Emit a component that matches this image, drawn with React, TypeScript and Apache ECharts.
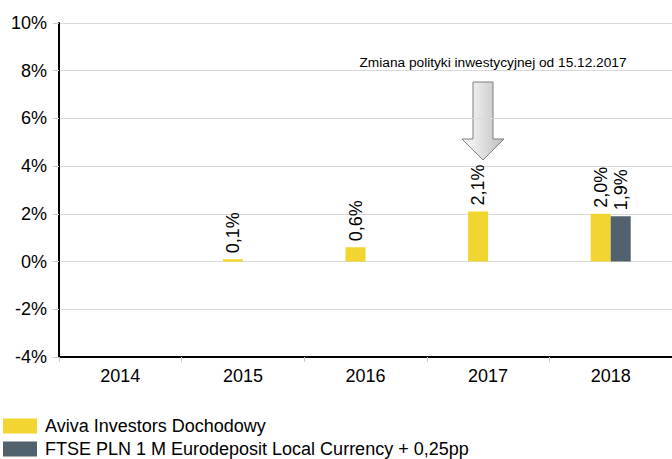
import React, { useEffect, useRef } from "react";
import * as echarts from "echarts";

const years = ["2014", "2015", "2016", "2017", "2018"];
const avivaValues: (number | null)[] = [null, 0.1, 0.6, 2.1, 2.0];
const benchmarkValues: (number | null)[] = [null, null, null, null, 1.9];
const seriesNames = [
  "Aviva Investors Dochodowy",
  "FTSE PLN 1 M Eurodeposit Local Currency + 0,25pp",
];
const annotationText = "Zmiana polityki inwestycyjnej od 15.12.2017";

const FONT = "Liberation Sans, Arial, sans-serif";

const fmt = (v: number) => v.toFixed(1).replace(".", ",") + "%";

export default function App() {
  const ref = useRef<HTMLDivElement>(null);
  useEffect(() => {
    if (!ref.current) return;
    const chart = echarts.init(ref.current, undefined, { renderer: "svg" });
    const label = {
      show: true,
      position: "top" as const,
      rotate: 90,
      align: "left" as const,
      verticalAlign: "middle" as const,
      distance: 6,
      fontSize: 18,
      color: "#000",
      fontFamily: FONT,
      formatter: (p: any) => fmt(p.value),
    };
    chart.setOption({
      animation: false,
      textStyle: { fontFamily: FONT },
      grid: { left: 59, right: -8, top: 23, bottom: 102, containLabel: false },
      legend: {
        orient: "vertical",
        left: 3,
        top: 417,
        height: 80,
        itemWidth: 34,
        itemHeight: 15,
        itemGap: 5,
        icon: "rect",
        padding: 0,
        textStyle: { fontSize: 18, lineHeight: 18, color: "#000", fontFamily: FONT, padding: [0, 0, 0, 3] },
        data: seriesNames,
      },
      xAxis: {
        type: "category",
        data: years,
        boundaryGap: true,
        axisLine: { onZero: false, lineStyle: { color: "#000", width: 2 } },
        axisTick: { show: true, length: 5, lineStyle: { color: "#c8c8c8" } },
        axisLabel: { fontSize: 18, color: "#000", margin: 10, fontFamily: FONT },
      },
      yAxis: {
        type: "value",
        min: -4,
        max: 10,
        interval: 2,
        axisLine: { show: true, lineStyle: { color: "#000", width: 2 } },
        axisTick: { show: true, length: 6, lineStyle: { color: "#c8c8c8" } },
        axisLabel: { fontSize: 18, color: "#000", margin: 12, formatter: "{value}%", fontFamily: FONT },
        splitLine: { show: true, lineStyle: { color: "#d9d9d9", width: 1 } },
      },
      series: [
        {
          name: seriesNames[0],
          type: "bar",
          data: avivaValues,
          barWidth: 20,
          barGap: "0%",
          itemStyle: { color: "#F2D530" },
          label,
        },
        {
          name: seriesNames[1],
          type: "bar",
          data: benchmarkValues,
          barWidth: 20,
          barGap: "0%",
          itemStyle: { color: "#52616E" },
          label,
        },
      ],
      graphic: [
        {
          type: "text",
          x: 493,
          y: 62,
          style: {
            text: annotationText,
            fontSize: 13.7,
            fill: "#000",
            fontFamily: FONT,
            align: "center",
            verticalAlign: "middle",
          },
        },
        {
          type: "polygon",
          shape: {
            points: [
              [473, 82],
              [493, 82],
              [493, 139],
              [504, 139],
              [483, 160],
              [462, 139],
              [473, 139],
            ],
          },
          style: {
            fill: new echarts.graphic.LinearGradient(0, 0, 1, 0, [
              { offset: 0, color: "#ffffff" },
              { offset: 1, color: "#bdbdbd" },
            ]),
            stroke: "#7f7f7f",
            lineWidth: 1,
          },
        },
      ],
    });
    return () => chart.dispose();
  }, []);
  return (
    <div
      ref={ref}
      style={{ position: "fixed", left: 0, top: 0, width: 672, height: 459, background: "#fff" }}
    />
  );
}
